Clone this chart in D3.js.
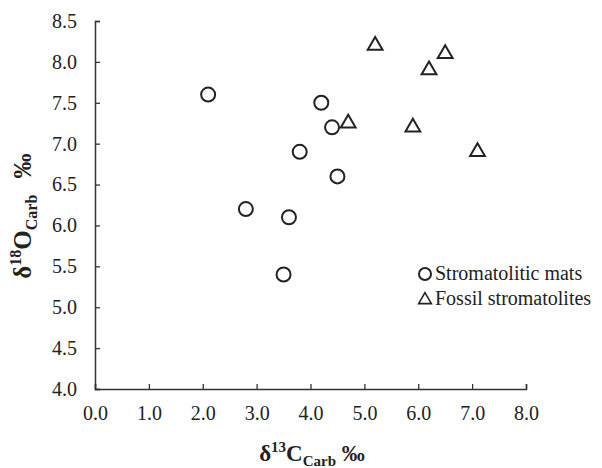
<!DOCTYPE html>
<html>
<head>
<meta charset="utf-8">
<script src="https://cdn.jsdelivr.net/npm/d3@7"></script>
<style>
  body { margin: 0; background: #fff; }
  svg text { font-family: "Times New Roman", "Liberation Serif", serif; fill: #222; }
</style>
</head>
<body>
<div id="chart"></div>
<script>
var w = 602;
var h = 468;
var serif = '"Times New Roman", "Liberation Serif", serif';

// stromatolitic mats (circles)
var matsX = [2.1, 2.8, 3.5, 3.6, 3.8, 4.2, 4.4, 4.5];
var matsY = [7.6, 6.2, 5.4, 6.1, 6.9, 7.5, 7.2, 6.6];
// fossil stromatolites (triangles)
var fossilX = [4.7, 5.2, 5.9, 6.2, 6.5, 7.1];
var fossilY = [7.25, 8.2, 7.2, 7.9, 8.1, 6.9];

var xTicks = [0, 1, 2, 3, 4, 5, 6, 7, 8];
var yTicks = [4.0, 4.5, 5.0, 5.5, 6.0, 6.5, 7.0, 7.5, 8.0, 8.5];
var seriesNames = ["Stromatolitic mats", "Fossil stromatolites"];

var margin = {left: 95, top: 21, right: 76, bottom: 79};

var svg = d3.select('#chart')
  .append('svg')
  .attr('width', w)
  .attr('height', h)
  .attr('font-family', serif);

var x = d3.scaleLinear().domain([0, 8]).range([margin.left, w - margin.right]);
var y = d3.scaleLinear().domain([4, 8.5]).range([h - margin.bottom, margin.top]);

var xAxis = svg.append('g')
  .attr('transform', 'translate(0,' + (h - margin.bottom) + ')')
  .call(d3.axisBottom(x).tickValues(xTicks).tickSize(-5).tickSizeOuter(-5)
    .tickPadding(17).tickFormat(d3.format('.1f')));

var yAxis = svg.append('g')
  .attr('transform', 'translate(' + margin.left + ',0)')
  .call(d3.axisLeft(y).tickValues(yTicks).tickSize(-5).tickSizeOuter(-5)
    .tickPadding(18).tickFormat(d3.format('.1f')));

[xAxis, yAxis].forEach(function(a) {
  a.attr('font-family', serif).attr('font-size', 20);
  a.select('.domain').attr('stroke', '#333').attr('stroke-width', 1.5);
  a.selectAll('.tick line').attr('stroke', '#333').attr('stroke-width', 1.3);
  a.selectAll('.tick text')
    .style('font-family', serif)
    .style('font-size', '20px')
    .attr('fill', '#222');
});

var mats = matsX.map(function(d, i) { return {x: d, y: matsY[i]}; });
var fossils = fossilX.map(function(d, i) { return {x: d, y: fossilY[i]}; });

svg.selectAll('circle.mat')
  .data(mats)
  .enter()
  .append('circle')
  .attr('class', 'mat')
  .attr('cx', function(d) { return x(d.x); })
  .attr('cy', function(d) { return y(d.y); })
  .attr('r', 7)
  .attr('fill', 'none')
  .attr('stroke', '#222')
  .attr('stroke-width', 2);

var tri = d3.symbol().type(d3.symbolTriangle).size(95);

svg.selectAll('path.fossil')
  .data(fossils)
  .enter()
  .append('path')
  .attr('class', 'fossil')
  .attr('d', tri)
  .attr('transform', function(d) { return 'translate(' + x(d.x) + ',' + y(d.y) + ')'; })
  .attr('fill', 'none')
  .attr('stroke', '#222')
  .attr('stroke-width', 2);

// legend
var legend = svg.append('g').attr('transform', 'translate(425,274)');
legend.append('circle')
  .attr('r', 6)
  .attr('fill', 'none')
  .attr('stroke', '#222')
  .attr('stroke-width', 2);
legend.append('path')
  .attr('d', d3.symbol().type(d3.symbolTriangle).size(70))
  .attr('transform', 'translate(0,26)')
  .attr('fill', 'none')
  .attr('stroke', '#222')
  .attr('stroke-width', 1.6);
legend.selectAll('text')
  .data(seriesNames)
  .enter()
  .append('text')
  .attr('x', 10)
  .attr('y', function(d, i) { return 6 + i * 25; })
  .style('font-family', serif)
  .style('font-size', '20px')
  .text(function(d) { return d; });

// x axis title
var xt = svg.append('text')
  .attr('x', 312)
  .attr('y', 461)
  .attr('text-anchor', 'middle')
  .style('font-family', serif)
  .style('font-size', '23px')
  .style('font-weight', 'bold');
xt.append('tspan').text('δ');
xt.append('tspan').attr('dy', -9).style('font-size', '15px').text('13');
xt.append('tspan').attr('dy', 9).text('C');
xt.append('tspan').attr('dy', 5).style('font-size', '15px').text('Carb');
xt.append('tspan').attr('dy', -5).text(' ‰');

// y axis title
var yt = svg.append('text')
  .attr('transform', 'translate(31,216) rotate(-90)')
  .attr('text-anchor', 'middle')
  .style('font-family', serif)
  .style('font-size', '25px')
  .style('font-weight', 'bold');
yt.append('tspan').text('δ');
yt.append('tspan').attr('dy', -10).style('font-size', '16px').text('18');
yt.append('tspan').attr('dy', 10).text('O');
yt.append('tspan').attr('dy', 6).style('font-size', '16px').text('Carb');
yt.append('tspan').attr('dy', -6).attr('dx', 10).text(' ‰');
</script>
</body>
</html>
